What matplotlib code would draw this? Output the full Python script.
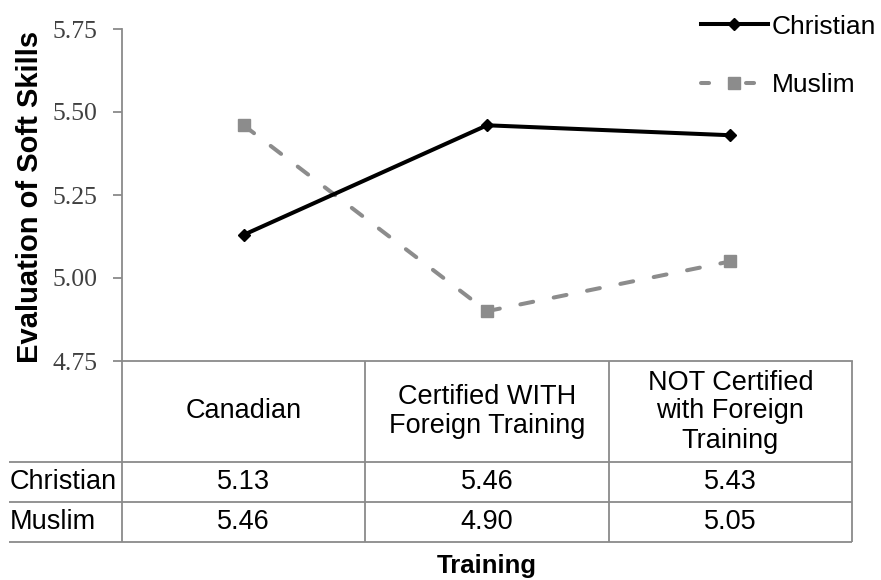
import matplotlib
matplotlib.use("Agg")
import matplotlib.pyplot as plt
from matplotlib.lines import Line2D

plt.rcParams["lines.scale_dashes"] = False

categories = ["Canadian", "Certified WITH\nForeign Training", "NOT Certified\nwith Foreign\nTraining"]
series_names = ["Christian", "Muslim"]
christian = [5.13, 5.46, 5.43]
muslim = [5.46, 4.90, 5.05]
yticks = [4.75, 5.00, 5.25, 5.50, 5.75]
ylabel = "Evaluation of Soft Skills"
xlabel = "Training"

W, H = 881, 580
fig = plt.figure(figsize=(W / 100, H / 100), dpi=100)

def fx(px):
    return px / W

def fy(py):
    return 1 - py / H

GRAY = "#8c8c8c"
AX_GRAY = "#8a8a8a"
SANS = "Liberation Sans"
SERIF = "Liberation Serif"
FS = 19.5
DASH = (9.4, 15.1)

left, right, top, bottom = 122, 852, 29, 361
ax = fig.add_axes([fx(left), fy(bottom), fx(right) - fx(left), fy(top) - fy(bottom)])
ax.set_xlim(0, 3)
ax.set_ylim(4.75, 5.75)
xs = [i + 0.5 for i in range(len(categories))]

ax.plot(xs, christian, color="black", lw=2.9, marker="D", markersize=6,
        solid_capstyle="round", label=series_names[0], zorder=3)
l2, = ax.plot(xs, muslim, color=GRAY, lw=2.9, marker="s", markersize=8.5,
              dash_capstyle="round", label=series_names[1], zorder=2)
l2.set_dashes(DASH)

for s in ["top", "right"]:
    ax.spines[s].set_visible(False)
for s in ["left", "bottom"]:
    ax.spines[s].set_color(AX_GRAY)
    ax.spines[s].set_linewidth(1.3)
ax.set_yticks(yticks)
ax.set_yticklabels([f"{v:.2f}" for v in yticks], fontfamily=SERIF, fontsize=18.5, color="#404040")
ax.tick_params(axis="y", length=6.5, width=1.3, color=AX_GRAY, pad=11)
ax.set_xticks([])
fig.text(fx(30), fy(197), ylabel, rotation=90, ha="center", va="center",
         fontfamily=SANS, fontweight="bold", fontsize=21)

# table axes below
tb_top, tb_bot = 361, 542
tax = fig.add_axes([fx(left), fy(tb_bot), fx(right) - fx(left), fy(tb_top) - fy(tb_bot)])
tax.set_xlim(0, 3)
tax.set_ylim(tb_bot - tb_top, 0)
tax.axis("off")
xleft = (9 - left) / (right - left) * 3
row_lines = [101, 141, 181]
for y in row_lines:
    tax.plot([xleft, 3], [y, y], color=AX_GRAY, lw=1.3, clip_on=False, solid_capstyle="butt")
for x in range(0, 4):
    tax.plot([x, x], [0, 181], color=AX_GRAY, lw=1.3, clip_on=False, solid_capstyle="butt")

for i, c in enumerate(categories):
    tax.text(xs[i], 50.5, c, ha="center", va="center", fontfamily=SANS, fontsize=FS,
             linespacing=1.15)
rows = [christian, muslim]
row_y = [121, 161]
for name, vals, y in zip(series_names, rows, row_y):
    tax.text(xleft + 0.003, y, name, ha="left", va="center", fontfamily=SANS, fontsize=FS, clip_on=False)
    for i, v in enumerate(vals):
        tax.text(xs[i], y, f"{v:.2f}", ha="center", va="center", fontfamily=SANS, fontsize=FS)

fig.text(fx(487), fy(566), xlabel, ha="center", va="center", fontfamily=SANS,
         fontweight="bold", fontsize=18.5)

# legend
handles = [
    Line2D([], [], color="black", lw=2.9, marker="D", markersize=6),
    Line2D([], [], color=GRAY, lw=2.9, marker="s", markersize=8.5, dashes=(5.8, 26.6),
           dash_capstyle="round"),
]
leg = fig.legend(handles, series_names, loc="upper left", bbox_to_anchor=(fx(690), fy(4)),
                 frameon=False, prop={"family": SANS, "size": 19}, handlelength=2.55,
                 handletextpad=0.15, labelspacing=1.3, borderaxespad=0)

fig.savefig("out.png", dpi=100)
